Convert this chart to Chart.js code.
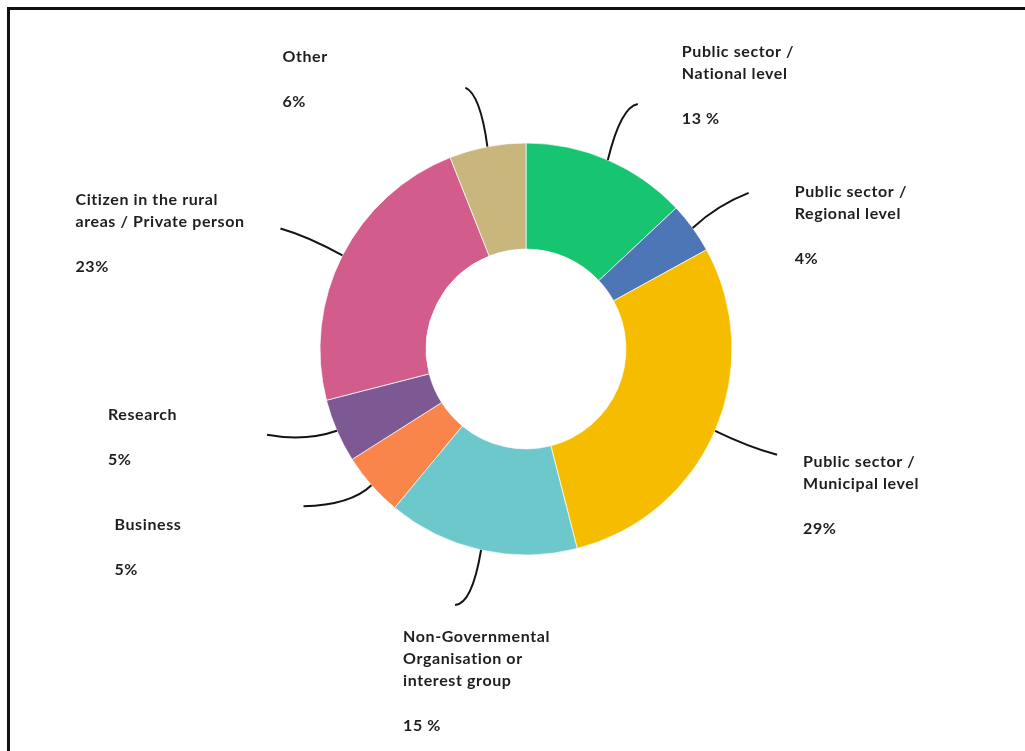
<!DOCTYPE html>
<html>
<head>
<meta charset="utf-8">
<script src="https://cdn.jsdelivr.net/npm/chart.js@4.4.0/dist/chart.umd.min.js"></script>
<style>
  html, body { margin: 0; padding: 0; background: #fff; overflow: hidden; }
  #wrap { position: relative; width: 1025px; height: 751px; }
  #frame {
    position: absolute; left: 7px; top: 7px; width: 1100px; height: 800px;
    border-top: 3px solid #111; border-left: 3px solid #111; pointer-events: none;
  }
</style>
</head>
<body>
<div id="wrap">
  <canvas id="chart" width="1025" height="751"></canvas>
  <div id="frame"></div>
</div>
<script>
// slices, clockwise from 12 o'clock
const categories = [
  ['Public sector /', 'National level'],
  ['Public sector /', 'Regional level'],
  ['Public sector /', 'Municipal level'],
  ['Non-Governmental', 'Organisation or', 'interest group'],
  ['Business'],
  ['Research'],
  ['Citizen in the rural', 'areas / Private person'],
  ['Other'],
];
const shares = [13, 4, 29, 15, 5, 5, 23, 6];
const shareLabels = ['13 %', '4%', '29%', '15 %', '5%', '5%', '23%', '6%'];
const sliceColors = ['#17c46f', '#4c76b6', '#f6bd00', '#6cc8cb', '#f9854b', '#7c5992', '#d25c8c', '#c8b67c'];

// leader line + text placement, relative to the outer mid point of each arc
const calloutLayout = [
  { end: [30, -56],  ctrl: [13, -53],  text: [74, -108] },
  { end: [56, -35],  ctrl: [25, -23],  text: [102, -36] },
  { end: [62, 24],   ctrl: [33, 16],   text: [88, 31] },
  { end: [-26, 55],  ctrl: [-9, 54],   text: [-78, 87] },
  { end: [-68, 21],  ctrl: [-21, 20],  text: [-257, 40] },
  { end: [-70, 4],   ctrl: [-32, 11],  text: [-229, -16] },
  { end: [-62, -27], ctrl: [-34, -19], text: [-267, -56] },
  { end: [-22, -59], ctrl: [-7, -52],  text: [-205, -90] },
];

const callouts = {
  id: 'callouts',
  afterDatasetsDraw(chart) {
    const ctx = chart.ctx;
    const arcs = chart.getDatasetMeta(0).data;
    ctx.save();
    arcs.forEach((arc, i) => {
      const { x, y, startAngle, endAngle, outerRadius } =
        arc.getProps(['x', 'y', 'startAngle', 'endAngle', 'outerRadius'], true);
      const mid = (startAngle + endAngle) / 2;
      const sx = x + Math.cos(mid) * outerRadius;
      const sy = y + Math.sin(mid) * outerRadius;
      const lay = calloutLayout[i];

      ctx.beginPath();
      ctx.moveTo(sx, sy);
      ctx.quadraticCurveTo(sx + lay.ctrl[0], sy + lay.ctrl[1], sx + lay.end[0], sy + lay.end[1]);
      ctx.lineWidth = 2;
      ctx.strokeStyle = '#141414';
      ctx.stroke();

      ctx.font = 'bold 16px Lato';
      ctx.letterSpacing = '0.6px';
      ctx.fillStyle = '#1e1e1e';
      ctx.textAlign = 'left';
      ctx.textBaseline = 'middle';
      const tx = sx + lay.text[0];
      const ty = sy + lay.text[1];
      const lines = categories[i];
      lines.forEach((line, k) => ctx.fillText(line, tx, ty + k * 22));
      ctx.fillText(shareLabels[i], tx, ty + (lines.length - 1) * 22 + 45);
    });
    ctx.restore();
  }
};

new Chart(document.getElementById('chart'), {
  type: 'doughnut',
  data: {
    labels: categories,
    datasets: [{
      data: shares,
      backgroundColor: sliceColors,
      borderColor: 'rgba(255,255,255,0.7)',
      borderWidth: 1,
      hoverOffset: 0,
    }],
  },
  options: {
    responsive: false,
    animation: false,
    cutout: '48.5%',
    layout: { padding: { left: 319.5, right: 292.5, top: 142.5, bottom: 195.5 } },
    plugins: {
      legend: { display: false },
      tooltip: { enabled: false },
    },
  },
  plugins: [callouts],
});
</script>
</body>
</html>
